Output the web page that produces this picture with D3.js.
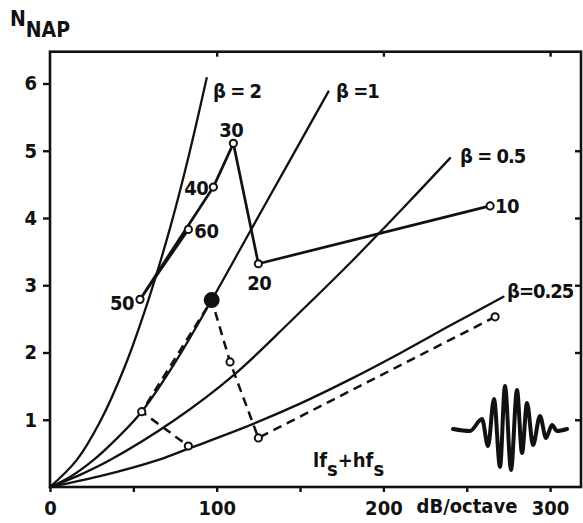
<!DOCTYPE html>
<html><head><meta charset="utf-8">
<script src="https://cdn.jsdelivr.net/npm/d3@7"></script>
<style>
html,body{margin:0;padding:0;background:#fff;}
svg text{font-family:"DejaVu Sans Condensed","DejaVu Sans",sans-serif;font-weight:bold;fill:#111;}
</style></head><body>
<svg id="chart" width="583" height="523"></svg>
<script>
// ---- data ----
const xTicks = [0, 50, 100, 150, 200, 250, 300];
const xTickLabels = [0, 100, 200, 300];
const yTicks = [1, 2, 3, 4, 5, 6];
const yTickLabels = [1, 2, 3, 4, 5, 6];

// beta curves: [dB/octave, N_NAP]
const beta2   = [[0,0],[16,0.40],[30,0.97],[45,1.80],[59,2.78],[72,3.85],[83,4.90],[94,6.08]];
const beta1   = [[0,0],[12,0.15],[26,0.40],[40,0.72],[55,1.12],[75,1.85],[97,2.78],[120,3.80],[144,4.86],[167,5.88]];
const beta05  = [[0,0],[18,0.18],[36,0.40],[75,1.00],[110,1.66],[145,2.48],[180,3.33],[210,4.10],[240,4.89]];
const beta025 = [[0,0],[30,0.16],[66,0.41],[83,0.57],[114,0.86],[150,1.24],[180,1.60],[210,1.99],[240,2.40],[272,2.83]];
const betaLabels = ["β = 2", "β =1", "β = 0.5", "β=0.25"];

// measured series (solid, labelled with frequency)
const freqLabels = ["10", "20", "30", "40", "50", "60"];
const solidSlope = [264, 125, 110, 98, 54, 83];
const solidN     = [4.18, 3.32, 5.11, 4.46, 2.79, 3.83];

// measured series (dashed, lf_s + hf_s)
const dashedSlope = [267, 125, 108, 97, 55, 83];
const dashedN     = [2.53, 0.73, 1.86, 2.78, 1.12, 0.61];
const filledIndex = 3;

// wavelet icon: extremes (relative time, amplitude)
const waveletT   = [0, 17, 29, 35, 41, 47, 52, 58, 64, 69, 74, 80, 87, 93, 99, 104, 114];
const waveletAmp = [0, -2, 10, -17, 30, -38, 43, -41, 39, -24, 26, -16, 13, -9, 4, -2, 0];

// ---- layout ----
const svg = d3.select("#chart");
const x = d3.scaleLinear().domain([0, 100]).range([50, 216.7]);
const y = d3.scaleLinear().domain([0, 6]).range([487, 83.5]);
const xMax = x.invert(581), yMax = y.invert(51.7);
const ink = "#111";
const FS = 20;

// frame
svg.append("rect")
  .attr("x", x(0)).attr("y", y(yMax))
  .attr("width", x(xMax) - x(0)).attr("height", y(0) - y(yMax))
  .attr("fill", "none").attr("stroke", ink).attr("stroke-width", 2.6);

// left axis
const gl = svg.append("g").attr("transform", `translate(${x(0)},0)`)
  .call(d3.axisLeft(y).tickValues(yTicks).tickSize(7).tickPadding(6)
    .tickFormat(d => yTickLabels.includes(d) ? d : ""));
// right inward ticks
const gr = svg.append("g").attr("transform", `translate(${x(xMax)},0)`)
  .call(d3.axisLeft(y).tickValues(yTicks.slice(0,5)).tickSize(6).tickFormat(""));
// bottom axis
const gb = svg.append("g").attr("transform", `translate(0,${y(0)})`)
  .call(d3.axisBottom(x).tickValues(xTicks).tickSize(5).tickPadding(6)
    .tickFormat(d => xTickLabels.includes(d) ? d : ""));
// top inward ticks
const gt = svg.append("g").attr("transform", `translate(0,${y(yMax)})`)
  .call(d3.axisBottom(x).tickValues([100, 200, 300]).tickSize(5).tickFormat(""));

[gl, gr, gb, gt].forEach(g => {
  g.select(".domain").remove();
  g.selectAll(".tick line").attr("stroke", ink).attr("stroke-width", 2.4);
  g.selectAll(".tick text").attr("font-size", FS).attr("fill", ink)
    .style("font-family", '"DejaVu Sans Condensed","DejaVu Sans",sans-serif').style("font-weight", "bold");
});
gb.selectAll(".tick text").attr("dy", "0.85em");

// axis titles
const nT = svg.append("text").attr("x", 10).attr("y", 26).attr("font-size", FS + 1);
nT.append("tspan").text("N");
nT.append("tspan").attr("dy", 11).text("NAP");
svg.append("text").attr("x", 467).attr("y", 513).attr("text-anchor", "middle")
  .attr("font-size", FS).text("dB/octave");

// beta curves
const line = d3.line().x(d => x(d[0])).y(d => y(d[1])).curve(d3.curveCatmullRom.alpha(0.5));
[beta2, beta1, beta05, beta025].forEach(c => {
  svg.append("path").attr("d", line(c)).attr("fill", "none")
    .attr("stroke", ink).attr("stroke-width", 2.3).attr("stroke-linecap", "round");
});
const betaPos = [[213, 98], [336, 98], [460, 163], [507, 298]];
betaLabels.forEach((t, i) => {
  svg.append("text").attr("x", betaPos[i][0]).attr("y", betaPos[i][1])
    .attr("font-size", FS).attr("letter-spacing", -1).text(t);
});

// dashed series
const dashedPts = dashedSlope.map((s, i) => [s, dashedN[i]]);
svg.append("path").attr("d", d3.line().x(d => x(d[0])).y(d => y(d[1]))(dashedPts))
  .attr("fill", "none").attr("stroke", ink).attr("stroke-width", 2.5)
  .attr("stroke-dasharray", "9,6");

// solid series
const solidPts = solidSlope.map((s, i) => [s, solidN[i]]);
svg.append("path").attr("d", d3.line().x(d => x(d[0])).y(d => y(d[1]))(solidPts))
  .attr("fill", "none").attr("stroke", ink).attr("stroke-width", 2.7)
  .attr("stroke-linejoin", "round");

// markers
dashedPts.forEach((p, i) => {
  svg.append("circle").attr("cx", x(p[0])).attr("cy", y(p[1]))
    .attr("r", i === filledIndex ? 7 : 3.6)
    .attr("fill", i === filledIndex ? ink : "#fff")
    .attr("stroke", ink).attr("stroke-width", 2);
});
solidPts.forEach(p => {
  svg.append("circle").attr("cx", x(p[0])).attr("cy", y(p[1])).attr("r", 3.6)
    .attr("fill", "#fff").attr("stroke", ink).attr("stroke-width", 2);
});

// frequency labels
const lblOff = [[5, 7, "start"], [1, 26, "middle"], [-2, -6, "middle"], [-5, 8, "end"], [-6, 11, "end"], [6, 9, "start"]];
freqLabels.forEach((t, i) => {
  svg.append("text").attr("x", x(solidSlope[i]) + lblOff[i][0]).attr("y", y(solidN[i]) + lblOff[i][1])
    .attr("text-anchor", lblOff[i][2]).attr("font-size", FS).attr("letter-spacing", -0.5).text(t);
});

// lf_s + hf_s label
const lf = svg.append("text").attr("x", 313).attr("y", 467).attr("font-size", FS);
lf.append("tspan").text("lf");
lf.append("tspan").attr("dy", 9).text("s");
lf.append("tspan").attr("dy", -9).text("+hf");
lf.append("tspan").attr("dy", 9).text("s");

// wavelet icon
const wx = d3.scaleLinear().domain([0, 114]).range([453, 567]);
const wy = d3.scaleLinear().domain([-45, 45]).range([474, 384]);
svg.append("path")
  .attr("d", d3.line().x((d, i) => wx(waveletT[i])).y(d => wy(d)).curve(d3.curveMonotoneX)(waveletAmp))
  .attr("fill", "none").attr("stroke", ink).attr("stroke-width", 4)
  .attr("stroke-linejoin", "round").attr("stroke-linecap", "round");
</script>
</body></html>
